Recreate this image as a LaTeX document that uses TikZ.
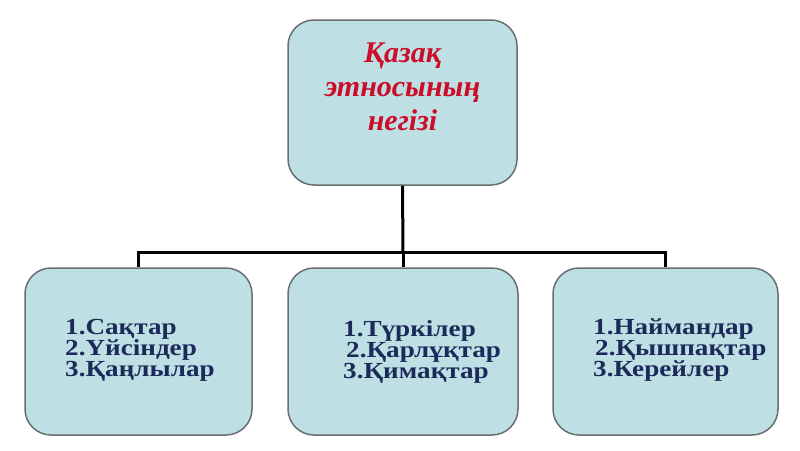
\documentclass[tikz,border=0pt]{standalone}
\usepackage{fontspec}
\setmainfont{Liberation Serif}
\newfontfamily\titlefont{Liberation Serif}
\newfontfamily\listfont[FakeStretch=1.18]{Liberation Serif}
\definecolor{boxfill}{RGB}{190,224,228}
\definecolor{boxdraw}{RGB}{105,110,112}
\definecolor{titlered}{RGB}{204,12,40}
\definecolor{listblue}{RGB}{28,42,90}
\begin{document}
\begin{tikzpicture}[x=1pt,y=-1pt,
  panel/.style={draw=boxdraw, line width=1.5pt, fill=boxfill, rounded corners=26pt, inner sep=0pt},
  topbox/.style={panel, minimum width=229pt, minimum height=165pt},
  subbox/.style={panel, minimum height=167pt},
  link/.style={line width=3pt, black, line join=miter},
  titletext/.style={font=\titlefont\bfseries\itshape\fontsize{30}{34}\selectfont, text=titlered, align=center},
  listtext/.style={font=\listfont\bfseries\fontsize{23}{21}\selectfont, text=listblue, align=left, anchor=west, inner sep=0pt}
]
\useasboundingbox (0,0) rectangle (800,450);
\fill[white] (0,0) rectangle (800,450);

\node[topbox] (top) at (402.5,102.5) {};
\node[subbox, minimum width=227pt] (b1) at (138.5,351.5) {};
\node[subbox, minimum width=230pt] (b2) at (403,351.5) {};
\node[subbox, minimum width=225pt] (b3) at (665.5,351.5) {};

\node[titletext] (title) at (402.5,87) {Қазақ\\этносының\\негізі};

\node[listtext] (l1) at (65,350) {1.Сақтар\\2.Үйсіндер\\3.Қаңлылар};
\node[listtext] (l2) at (343,352) {1.Түркілер\\\hspace{3pt}2.Қарлұқтар\\3.Қимақтар};
\node[listtext] (l3) at (593,350) {1.Наймандар\\\hspace{2pt}2.Қышпақтар\\3.Керейлер};

\coordinate (j) at (403,252);
\draw[link] (top.south) -- (j);
\draw[link] (j) -| (b1.north);
\draw[link] (j) -- (b2.north);
\draw[link] (j) -| (b3.north);
\end{tikzpicture}
\end{document}
